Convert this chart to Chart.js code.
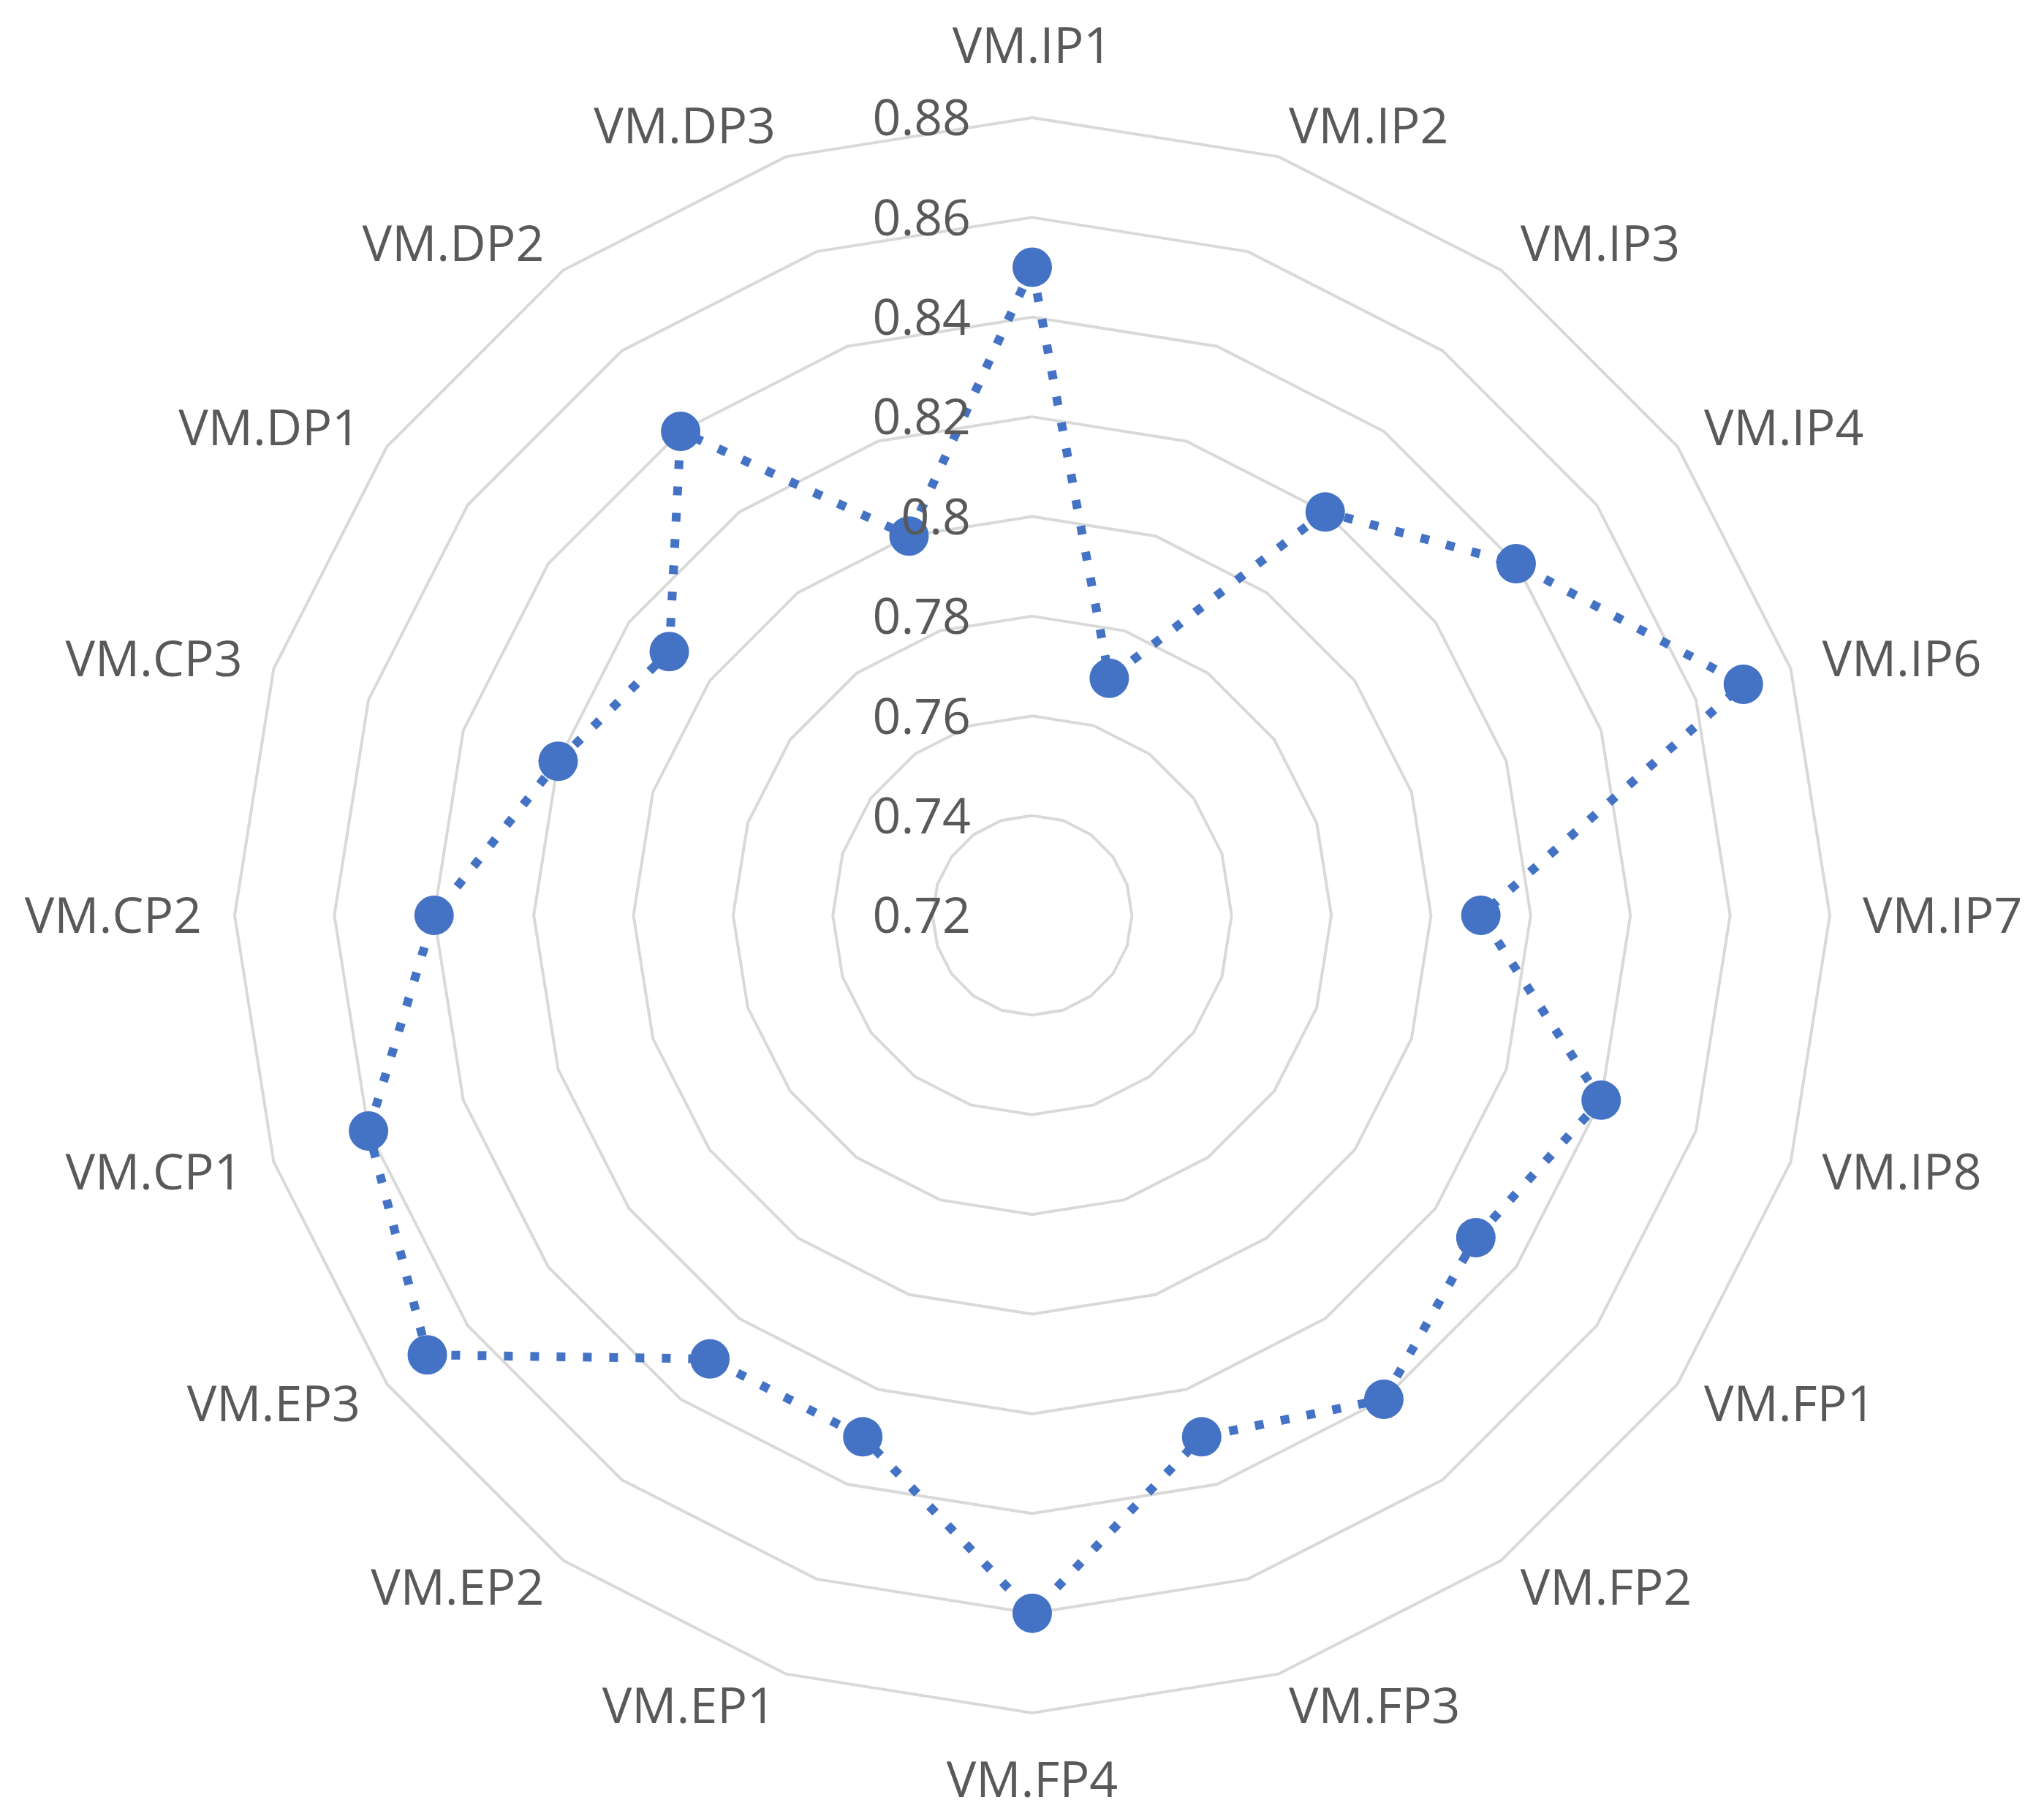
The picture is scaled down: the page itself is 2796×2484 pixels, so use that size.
<!DOCTYPE html>
<html>
<head>
<meta charset="utf-8">
<script src="https://cdn.jsdelivr.net/npm/chart.js@4/dist/chart.umd.min.js"></script>
<style>
  body { margin: 0; background: #ffffff; }
  canvas { display: block; }
</style>
</head>
<body>
<canvas id="radarChart" width="2796" height="2484"></canvas>
<script>
// categories, clockwise from the top
const categories = ['VM.IP1', 'VM.IP2', 'VM.IP3', 'VM.IP4', 'VM.IP6', 'VM.IP7', 'VM.IP8',
    'VM.FP1', 'VM.FP2', 'VM.FP3', 'VM.FP4', 'VM.EP1', 'VM.EP2', 'VM.EP3',
    'VM.CP1', 'VM.CP2', 'VM.CP3', 'VM.DP1', 'VM.DP2', 'VM.DP3']

const values = [0.85, 0.77, 0.82, 0.84, 0.87, 0.81, 0.84,
    0.83, 0.84, 0.83, 0.86, 0.83, 0.83, 0.87,
    0.86, 0.84, 0.82, 0.81, 0.84, 0.80]

const tickValues = [0.72, 0.74, 0.76, 0.78, 0.80, 0.82, 0.84, 0.86, 0.88]
const tickLabels = ['0.72', '0.74', '0.76', '0.78', '0.8', '0.82', '0.84', '0.86', '0.88']

const textColor = '#595959'
const gridColor = '#d9d9d9'
const seriesColor = '#4472c4'
const fontFamily = '"Open Sans", "Noto Sans", sans-serif'
const fontSize = 68
const capHeight = fontSize * 0.714

// Excel puts the value labels left of the vertical axis, over the series,
// and centres the category labels on the end of each spoke
const labelPlugin = {
    id: 'excelLabels',
    afterDatasetsDraw(chart) {
        const scale = chart.scales.r
        const ctx = chart.ctx
        ctx.save()
        ctx.font = fontSize + 'px ' + fontFamily
        ctx.fillStyle = textColor
        ctx.textBaseline = 'alphabetic'

        ctx.textAlign = 'right'
        tickValues.forEach((value, index) => {
            const y = scale.yCenter - scale.getDistanceFromCenterForValue(value)
            ctx.fillText(tickLabels[index], scale.xCenter - 84, y + capHeight / 2)
        })

        categories.forEach((name, index) => {
            const pos = scale.getPointPosition(index, scale.drawingArea + 45)
            let y = pos.y + capHeight / 2
            if (pos.x > scale.xCenter + 1) {
                ctx.textAlign = 'left'
            } else if (pos.x < scale.xCenter - 1) {
                ctx.textAlign = 'right'
            } else {
                ctx.textAlign = 'center'
                y = pos.y < scale.yCenter ? pos.y - 30 : pos.y + 70
            }
            ctx.fillText(name, pos.x, y)
        })
        ctx.restore()
    }
}

const ctx = document.getElementById('radarChart').getContext('2d')
const chart = new Chart(ctx, {
    type: 'radar',
    data: {
        labels: categories,
        datasets: [{
            label: 'Series1',
            data: values,
            fill: false,
            borderColor: seriesColor,
            borderWidth: 12,
            borderDash: [12, 24],
            borderCapStyle: 'butt',
            pointRadius: 27,
            pointHoverRadius: 27,
            pointBackgroundColor: seriesColor,
            pointBorderWidth: 0,
            tension: 0
        }]
    },
    options: {
        responsive: false,
        animation: false,
        devicePixelRatio: 1,
        layout: { padding: { top: 161, bottom: 141, left: 28, right: 0 } },
        plugins: {
            legend: { display: false },
            tooltip: { enabled: false }
        },
        scales: {
            r: {
                min: 0.72,
                max: 0.88,
                ticks: { stepSize: 0.02, display: false },
                grid: { color: gridColor, lineWidth: 4, circular: false },
                angleLines: { display: false },
                pointLabels: { display: false }
            }
        }
    },
    plugins: [labelPlugin]
})
</script>
</body>
</html>
